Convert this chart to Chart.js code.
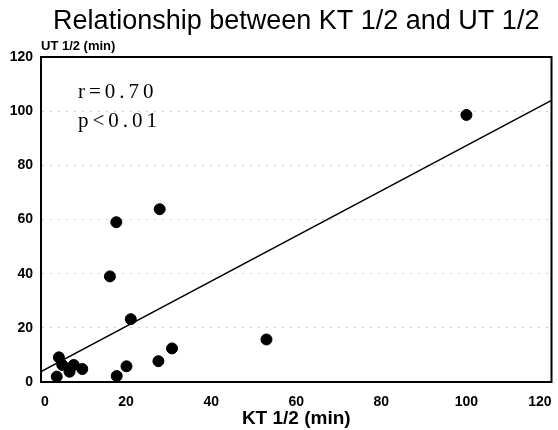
<!DOCTYPE html>
<html>
<head>
<meta charset="utf-8">
<script src="https://cdn.jsdelivr.net/npm/chart.js@4"></script>
<style>
  html, body { margin: 0; padding: 0; background: #fff; overflow: hidden; }
  #wrap { width: 558px; height: 430px; }
</style>
</head>
<body>
<div id="wrap"><canvas id="scatterChart"></canvas></div>
<script>
// KT 1/2 vs UT 1/2 (minutes)
const ktHalf = [3.7, 4.2, 5.0, 6.7, 7.7, 9.7, 16.2, 17.7, 17.8, 20.1, 21.1, 27.6, 27.9, 30.8, 53.0, 100.0];
const utHalf = [2.0, 9.1, 6.3, 3.8, 6.3, 4.8, 39.0, 59.0, 2.2, 5.8, 23.2, 7.7, 63.8, 12.4, 15.7, 98.6];

// regression line end points
const fitX = [0, 120];
const fitY = [3.8, 104];

const xTicks = [0, 20, 40, 60, 80, 100, 120];
const yTicks = [0, 20, 40, 60, 80, 100, 120];
const statLines = ["r=0.70", "p<0.01"];

const sans = "'Liberation Sans', Arial, sans-serif";

// box around the plot and the r / p note
const framePlugin = {
  id: "frame",
  afterDraw(chart) {
    const { ctx, chartArea: a } = chart;
    ctx.save();
    ctx.strokeStyle = "#000";
    ctx.lineWidth = 2;
    ctx.strokeRect(a.left, a.top, a.right - a.left, a.bottom - a.top);

    ctx.fillStyle = "#000";
    ctx.font = "21px 'Liberation Serif', 'Times New Roman', serif";
    ctx.letterSpacing = "4px";
    ctx.textBaseline = "alphabetic";
    statLines.forEach((t, i) => ctx.fillText(t, a.left + 37, a.top + 41 + i * 29));
    ctx.restore();
  }
};

const points = ktHalf.map((x, i) => ({ x: x, y: utHalf[i] }));
const fitLine = fitX.map((x, i) => ({ x: x, y: fitY[i] }));

const ctx = document.getElementById("scatterChart").getContext("2d");
new Chart(ctx, {
  type: "scatter",
  data: {
    datasets: [
      {
        label: "patients",
        data: points,
        backgroundColor: "#000",
        borderColor: "#000",
        pointRadius: 5.5,
        pointHoverRadius: 5.5
      },
      {
        type: "line",
        label: "fit",
        data: fitLine,
        borderColor: "#000",
        borderWidth: 1.5,
        pointRadius: 0,
        fill: false
      }
    ]
  },
  options: {
    responsive: true,
    maintainAspectRatio: false,
    animation: false,
    layout: { padding: { top: 5, right: 5, left: 0, bottom: 0 } },
    plugins: {
      legend: { display: false },
      tooltip: { enabled: false },
      title: {
        display: true,
        text: "Relationship between KT 1/2 and UT 1/2",
        color: "#000",
        fullSize: false,
        font: { family: sans, size: 27, weight: "normal" },
        padding: { top: 0, bottom: 0 }
      },
      subtitle: {
        display: true,
        text: "UT 1/2 (min)",
        align: "start",
        color: "#000",
        fullSize: false,
        font: { family: sans, size: 13, weight: "bold" },
        padding: { top: 1, bottom: 3 }
      }
    },
    scales: {
      x: {
        type: "linear",
        min: 0,
        max: 120,
        afterBuildTicks: s => { s.ticks = xTicks.map(v => ({ value: v })); },
        afterFit: s => { s.height = 48; s.paddingRight = 0; },
        grid: { display: false, drawTicks: false },
        border: { color: "#000", width: 2 },
        ticks: { color: "#000", padding: 12, align: "inner", font: { family: sans, size: 14, weight: "bold" } },
        title: {
          display: true,
          text: "KT 1/2 (min)",
          color: "#000",
          font: { family: sans, size: 19, weight: "bold" },
          padding: { top: 0, bottom: 0 }
        }
      },
      y: {
        type: "linear",
        min: 0,
        max: 120,
        afterBuildTicks: s => { s.ticks = yTicks.map(v => ({ value: v })); },
        afterFit: s => { s.width = 41; },
        grid: { color: "rgba(0,0,0,0.2)", drawTicks: false },
        border: { color: "#000", width: 2, dash: [2, 6] },
        ticks: { color: "#000", padding: 8, font: { family: sans, size: 14, weight: "bold" } }
      }
    }
  },
  plugins: [framePlugin]
});
</script>
</body>
</html>
